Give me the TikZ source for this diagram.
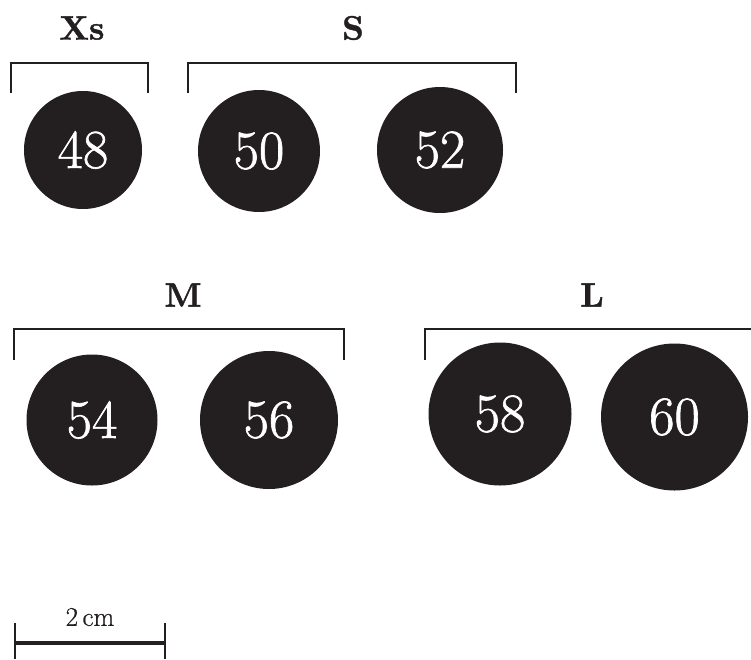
\documentclass[tikz,border=0pt]{standalone}
\usepackage{fontspec}
\setmainfont{Latin Modern Roman}
\newfontfamily\numfont{Latin Modern Roman}[FakeBold=1.2]
\newfontfamily\cmfont{Latin Modern Roman}[FakeBold=0.8]
\newfontfamily\grpfont{lmroman10-bold.otf}[FakeBold=1.2]
\begin{document}
\begin{tikzpicture}[x=1pt,y=-1pt,
  size/.style={circle,fill={rgb,255:red,35;green,31;blue,32},text=white,inner sep=0pt,font=\numfont\fontsize{55}{55}\selectfont},
  grp/.style={font=\grpfont\fontsize{34}{34}\selectfont,text={rgb,255:red,35;green,31;blue,32},inner sep=0pt},
  brk/.style={draw={rgb,255:red,35;green,31;blue,32},line width=2pt},
  bar/.style={draw={rgb,255:red,35;green,31;blue,32}}]
\useasboundingbox (0,0) rectangle (751,659);
% circles
\node[size,minimum size=118pt] (c48) at (83,150) {48};
\node[size,minimum size=122pt] (c50) at (259,151) {50};
\node[size,minimum size=126pt] (c52) at (440,150) {52};
\node[size,minimum size=131pt] (c54) at (92,420) {54};
\node[size,minimum size=138pt] (c56) at (269,420) {56};
\node[size,minimum size=143pt] (c58) at (500,414) {58};
\node[size,minimum size=147pt] (c60) at (674.5,417) {60};
% group labels
\node[grp] (xs) at (82,28) {Xs};
\node[grp] (s) at (353,28) {S};
\node[grp] (m) at (183,295) {M};
\node[grp] (l) at (592,295) {L};
% brackets
\draw[brk] (11,93) -- (11,63) -- (148,63) -- (148,93);
\draw[brk] (188,93) -- (188,63) -- (516,63) -- (516,93);
\draw[brk] (14,360) -- (14,329) -- (344,329) -- (344,360);
\draw[brk] (425,360) -- (425,329) -- (751,329);
% scale bar
\coordinate (sa) at (15,643);
\coordinate (sb) at (165,643);
\draw[bar,line width=4.5pt] (sa) -- (sb);
\draw[bar,line width=2.5pt] (15,623) -- (15,659);
\draw[bar,line width=2.5pt] (165,623) -- (165,659);
\node[font=\cmfont\fontsize{27}{27}\selectfont,inner sep=0pt,text={rgb,255:red,35;green,31;blue,32}] (cm) at (90,617) {2\,cm};
\end{tikzpicture}
\end{document}
